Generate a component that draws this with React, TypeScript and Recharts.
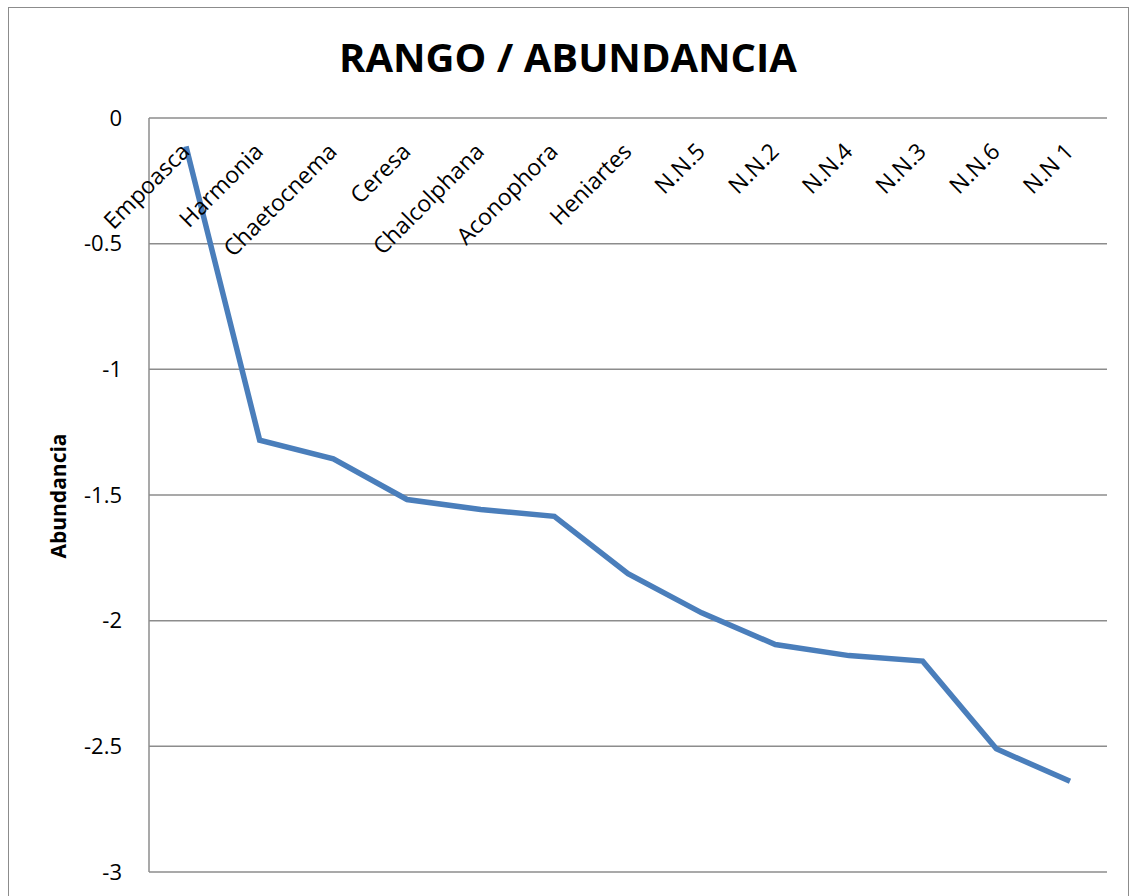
import React from 'react';
import {
  LineChart,
  Line,
  XAxis,
  YAxis,
  CartesianGrid,
} from 'recharts';

const generos = [
  'Empoasca',
  'Harmonia',
  'Chaetocnema',
  'Ceresa',
  'Chalcolphana',
  'Aconophora',
  'Heniartes',
  'N.N.5',
  'N.N.2',
  'N.N.4',
  'N.N.3',
  'N.N.6',
  'N.N 1',
];

const abundancia = [
  -0.113, -1.282, -1.356, -1.518, -1.558, -1.585, -1.813, -1.969, -2.095,
  -2.139, -2.161, -2.51, -2.639,
];

const yTicks = [0, -0.5, -1, -1.5, -2, -2.5, -3];

const data = generos.map((name, i) => ({ name, value: abundancia[i] }));

const FONT = '"Open Sans", sans-serif';

const CategoryTick = (props: any) => {
  const { x, y, payload } = props;
  const ax = x + 5;
  const ay = y + 35;
  return (
    <text
      x={ax}
      y={ay}
      textAnchor="end"
      fontFamily={FONT}
      fontSize={23}
      fill="#000"
      transform={`rotate(-45, ${ax}, ${ay})`}
    >
      {payload.value}
    </text>
  );
};

const formatTick = (v: number) => String(v);

export default function App() {
  return (
    <div
      style={{
        position: 'absolute',
        left: 0,
        top: 0,
        width: 1136,
        height: 896,
        background: '#fff',
        overflow: 'hidden',
      }}
    >
      <div
        style={{
          position: 'absolute',
          left: 8,
          top: 7,
          width: 1121,
          height: 920,
          border: '1.5px solid #8c8c8c',
          boxSizing: 'border-box',
        }}
      />
      <div
        style={{
          position: 'absolute',
          left: 0,
          width: 1136,
          top: 29,
          textAlign: 'center',
          fontFamily: FONT,
          fontWeight: 700,
          fontSize: 40,
          lineHeight: '56px',
          color: '#000',
        }}
      >
        RANGO / ABUNDANCIA
      </div>
      <div
        style={{
          position: 'absolute',
          left: 58,
          top: 496,
          transform: 'translate(-50%, -50%) rotate(-90deg)',
          fontFamily: FONT,
          fontWeight: 700,
          fontSize: 21,
          whiteSpace: 'nowrap',
          color: '#000',
        }}
      >
        Abundancia
      </div>
      <div style={{ position: 'absolute', left: 0, top: 0 }}>
        <LineChart
          width={1136}
          height={896}
          data={data}
          margin={{ top: 117, right: 29, bottom: 24, left: 29 }}
        >
          <CartesianGrid
            vertical={false}
            stroke="#8c8c8c"
            strokeWidth={1.5}
          />
          <XAxis
            dataKey="name"
            orientation="top"
            height={1}
            axisLine={false}
            tickLine={false}
            tickSize={0}
            tickMargin={0}
            interval={0}
            padding={{ left: 37, right: 37 }}
            tick={<CategoryTick />}
          />
          <YAxis
            width={120}
            domain={[-3, 0]}
            ticks={yTicks}
            interval={0}
            tickFormatter={formatTick}
            axisLine={{ stroke: '#8c8c8c', strokeWidth: 1.5 }}
            tickLine={false}
            tickSize={0}
            tickMargin={27}
            tick={{ fontFamily: FONT, fontSize: 22, fill: '#000' }}
          />
          <Line
            type="linear"
            dataKey="value"
            stroke="#4a7ebb"
            strokeWidth={5.5}
            dot={false}
            activeDot={false}
            isAnimationActive={false}
          />
        </LineChart>
      </div>
    </div>
  );
}
